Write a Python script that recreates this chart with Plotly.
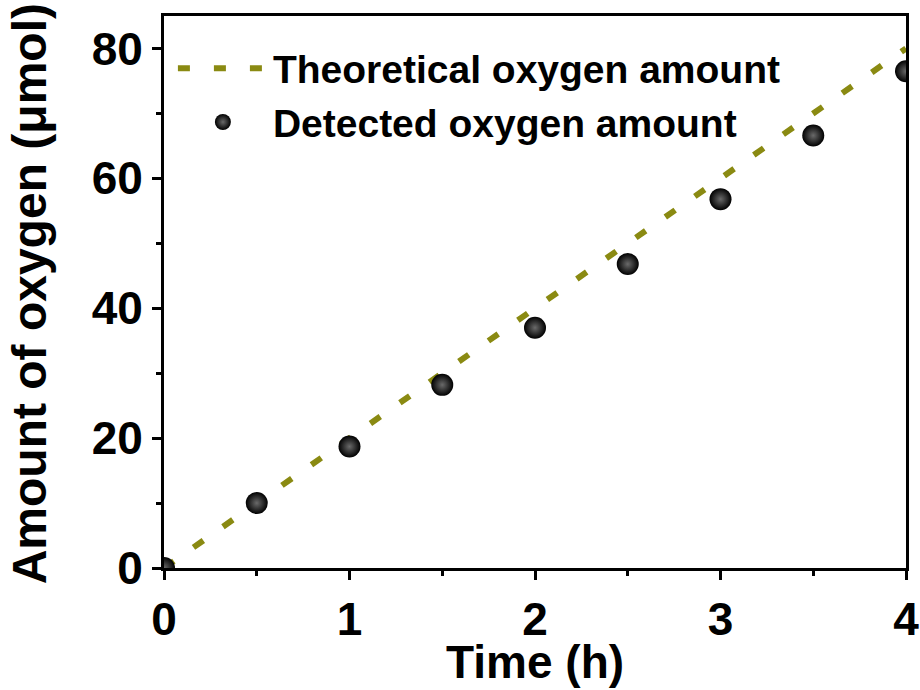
import plotly.graph_objects as go

# Data
time_detected = [0, 0.5, 1, 1.5, 2, 2.5, 3, 3.5, 4]
oxygen_detected = [0, 10, 18.7, 28.2, 37, 46.8, 56.8, 66.6, 76.5]
time_theory = [0, 4]
oxygen_theory = [0, 80]

series_names = ["Theoretical oxygen amount", "Detected oxygen amount"]
x_title = "Time (h)"
y_title = "Amount of oxygen (μmol)"

FONT = "Liberation Sans, Arial, sans-serif"
OLIVE = "#8A8A12"

fig = go.Figure()
fig.add_trace(go.Scatter(
    x=time_theory, y=oxygen_theory, mode="lines", name=series_names[0],
    line=dict(color=OLIVE, width=6, dash="12px,24px"),
))
fig.add_trace(go.Scatter(
    x=time_detected, y=oxygen_detected, mode="markers", name=series_names[1],
    marker=dict(size=22, color="black",
                gradient=dict(type="radial", color="#6a6a6a"),
                line=dict(width=0)),
))

axis_common = dict(
    showline=True, linecolor="black", linewidth=3, mirror=True,
    ticks="outside", ticklen=9, tickwidth=3, tickcolor="black",
    showgrid=False, zeroline=False, automargin=False,
    tickfont=dict(family=FONT, size=46, color="black", weight="bold"),
)

fig.update_layout(
    width=920, height=690,
    margin=dict(l=164, r=14, t=16, b=122),
    plot_bgcolor="white", paper_bgcolor="white",
    xaxis=dict(range=[0, 4], dtick=1, tick0=0,
               minor=dict(dtick=0.5, ticks="outside", ticklen=5, tickwidth=3, tickcolor="black"),
               **axis_common),
    yaxis=dict(range=[0, 85], dtick=20, tick0=0,
               minor=dict(dtick=10, ticks="outside", ticklen=5, tickwidth=3, tickcolor="black"),
               **axis_common),
    legend=dict(x=0.012, y=0.963, xanchor="left", yanchor="top",
                bgcolor="rgba(0,0,0,0)",
                font=dict(family=FONT, size=39, color="black", weight="bold"),
                itemwidth=90, tracegroupgap=0),
    showlegend=True,
    annotations=[
        dict(text=x_title, xref="paper", yref="paper", x=0.5, y=-0.171,
             xanchor="center", yanchor="middle", showarrow=False,
             font=dict(family=FONT, size=46, color="black", weight="bold")),
        dict(text=y_title, xref="paper", yref="paper", x=-0.181, y=0.497,
             xanchor="center", yanchor="middle", textangle=-90, showarrow=False,
             font=dict(family=FONT, size=48, color="black", weight="bold")),
    ],
)

fig.write_html("out.html")
